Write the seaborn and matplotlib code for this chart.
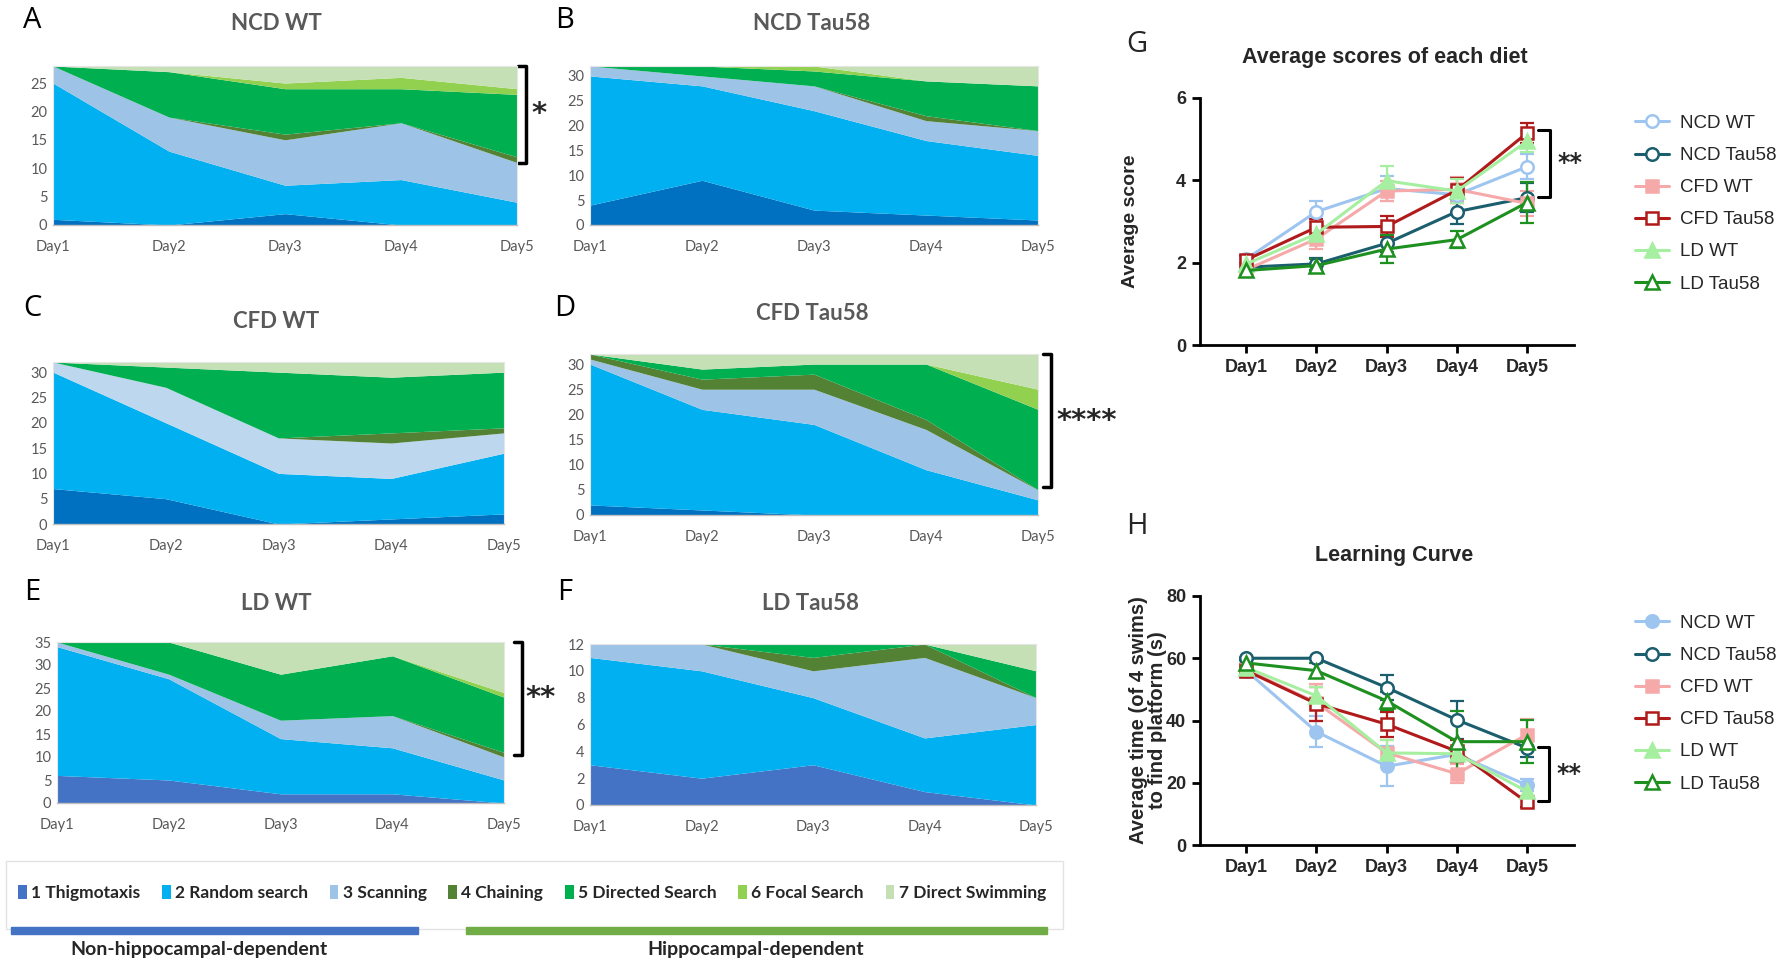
import numpy as np
import pandas as pd
import matplotlib
matplotlib.use("Agg")
import matplotlib.pyplot as plt
import matplotlib.transforms as mtransforms
from matplotlib.patches import Patch, Rectangle
import seaborn as sns

sns.set_style("white")
plt.rcParams["font.family"] = ["Lato", "DejaVu Sans"]

W, H = 1783, 961

days = ["Day1", "Day2", "Day3", "Day4", "Day5"]
strategies = ["1 Thigmotaxis", "2 Random search", "3 Scanning", "4 Chaining",
              "5 Directed Search", "6 Focal Search", "7 Direct Swimming"]

# search strategy counts: one row per strategy, one column per day
ncd_wt = [[1, 0, 2, 0, 0], [24, 13, 5, 8, 4], [3, 6, 8, 10, 7], [0, 0, 1, 0, 1],
          [0, 8, 8, 6, 11], [0, 0, 1, 2, 1], [0, 1, 3, 2, 4]]
ncd_tau = [[4, 9, 3, 2, 1], [26, 19, 20, 15, 13], [2, 2, 5, 4, 5], [0, 0, 0, 1, 0],
           [0, 2, 3, 7, 9], [0, 0, 1, 0, 0], [0, 0, 0, 3, 4]]
cfd_wt = [[7, 5, 0, 1, 2], [23, 15, 10, 8, 12], [2, 7, 7, 7, 4], [0, 0, 0, 2, 1],
          [0, 4, 13, 11, 11], [0, 0, 0, 0, 0], [0, 1, 2, 3, 2]]
cfd_tau = [[2, 1, 0, 0, 0], [28, 20, 18, 9, 3], [1, 4, 7, 8, 2], [1, 2, 3, 2, 0],
           [0, 2, 2, 11, 16], [0, 0, 0, 0, 4], [0, 3, 2, 2, 7]]
ld_wt = [[6, 5, 2, 2, 0], [28, 22, 12, 10, 5], [1, 1, 4, 7, 5], [0, 0, 0, 0, 1],
         [0, 7, 10, 13, 12], [0, 0, 0, 0, 1], [0, 0, 7, 3, 11]]
ld_tau = [[3, 2, 3, 1, 0], [8, 8, 5, 4, 6], [1, 2, 2, 6, 2], [0, 0, 1, 1, 0],
          [0, 0, 1, 0, 2], [0, 0, 0, 0, 0], [0, 0, 0, 0, 2]]

groups = ["NCD WT", "NCD Tau58", "CFD WT", "CFD Tau58", "LD WT", "LD Tau58"]

# average score (mean, sem)
score_mean = {
    "NCD WT":    [2.09, 3.24, 3.80, 3.65, 4.33],
    "NCD Tau58": [1.89, 1.97, 2.47, 3.24, 3.58],
    "CFD WT":    [1.83, 2.58, 3.74, 3.78, 3.44],
    "CFD Tau58": [2.07, 2.86, 2.88, 3.76, 5.15],
    "LD WT":     [1.97, 2.70, 3.99, 3.74, 4.95],
    "LD Tau58":  [1.81, 1.93, 2.33, 2.56, 3.46],
}
score_sem = {
    "NCD WT":    [0.10, 0.25, 0.30, 0.15, 0.30],
    "NCD Tau58": [0.10, 0.15, 0.20, 0.30, 0.35],
    "CFD WT":    [0.10, 0.25, 0.25, 0.30, 0.30],
    "CFD Tau58": [0.10, 0.20, 0.25, 0.30, 0.25],
    "LD WT":     [0.10, 0.20, 0.35, 0.30, 0.25],
    "LD Tau58":  [0.10, 0.15, 0.35, 0.20, 0.50],
}

# latency to platform (mean, sem)
time_mean = {
    "NCD WT":    [56.0, 36.4, 25.3, 29.1, 19.2],
    "NCD Tau58": [60.0, 60.0, 50.6, 40.2, 31.2],
    "CFD WT":    [56.3, 45.7, 29.6, 22.9, 35.5],
    "CFD Tau58": [56.0, 45.4, 38.8, 30.1, 13.7],
    "LD WT":     [57.0, 47.9, 29.6, 29.3, 17.2],
    "LD Tau58":  [58.5, 56.0, 46.3, 33.2, 33.2],
}
time_sem = {
    "NCD WT":    [2.0, 5.0, 6.5, 2.5, 2.0],
    "NCD Tau58": [0.0, 0.0, 4.0, 6.0, 3.0],
    "CFD WT":    [2.0, 6.0, 4.0, 3.0, 5.0],
    "CFD Tau58": [2.0, 5.5, 4.0, 3.5, 1.5],
    "LD WT":     [2.0, 3.0, 4.0, 2.0, 2.0],
    "LD Tau58":  [1.0, 2.5, 3.0, 10.0, 7.0],
}

# ---------- styles ----------
pal = ["#0070C0", "#00B0F0", "#9DC3E6", "#548235", "#00B050", "#92D050", "#C5E0B4"]
pal_ld = ["#4472C4"] + pal[1:]
pal_cfd = pal[:2] + ["#BDD7EE"] + pal[3:]

grp_color = {"NCD WT": "#9EC5F0", "NCD Tau58": "#1B5E6E", "CFD WT": "#F6A9A9",
             "CFD Tau58": "#B01A1A", "LD WT": "#A6EFA0", "LD Tau58": "#1E9020"}
grp_marker = {"NCD WT": "o", "NCD Tau58": "o", "CFD WT": "s",
              "CFD Tau58": "s", "LD WT": "^", "LD Tau58": "^"}
grp_open = {"NCD WT": True, "NCD Tau58": True, "CFD WT": False,
            "CFD Tau58": True, "LD WT": False, "LD Tau58": True}

ARIAL = ["Liberation Sans", "DejaVu Sans"]


def px(l, t, r, b):
    return [l / W, 1 - b / H, (r - l) / W, (b - t) / H]


def ftext(x, y, s, **kw):
    fig.text(x / W, 1 - y / H, s, ha=kw.pop("ha", "center"), va=kw.pop("va", "center"), **kw)


fig = plt.figure(figsize=(W / 100, H / 100), dpi=100)

x = np.arange(len(days))


def area_panel(rect, counts, title, title_xy, letter, letter_xy, ystep, colors):
    ax = fig.add_axes(px(*rect))
    ax.stackplot(x, np.array(counts), colors=colors, lw=0)
    total = np.array(counts).sum(axis=0).max()
    ax.set_xlim(0, 4)
    ax.set_ylim(0, total)
    ax.set_yticks(np.arange(0, total + 0.1, ystep))
    ax.set_xticks(x)
    ax.set_xticklabels(days)
    ax.tick_params(axis="x", direction="out", length=5, width=1, color="#BFBFBF",
                   labelsize=10.5, labelcolor="#595959", pad=6)
    ax.tick_params(axis="y", length=0, labelsize=10.5, labelcolor="#595959", pad=4)
    for s in ["top", "right", "left"]:
        ax.spines[s].set_color("#E6E6E6")
        ax.spines[s].set_linewidth(0.8)
    ax.spines["bottom"].set_color("#BFBFBF")
    ax.spines["bottom"].set_linewidth(1)
    ftext(*title_xy, title, fontsize=16, fontweight="bold", color="#595959")
    ftext(*letter_xy, letter, fontsize=21, color="black", family=["Open Sans", "DejaVu Sans"])
    return ax


def bracket(ax, y0, y1, label, xoff, toff, tick=0.018, fs=21):
    tr = mtransforms.blended_transform_factory(ax.transAxes, ax.transData)
    ax.plot([1 + xoff - tick, 1 + xoff, 1 + xoff, 1 + xoff - tick], [y0, y0, y1, y1],
            color="black", lw=2.5, transform=tr, clip_on=False)
    ax.text(1 + xoff + toff, (y0 + y1) / 2, label, transform=tr, ha="left", va="center",
            fontsize=fs, fontweight="bold", family=["DejaVu Sans"])


def data_bracket(ax, xv, y0, y1, label):
    ax.plot([xv - 0.17, xv, xv, xv - 0.17], [y0, y0, y1, y1], color="black", lw=2.2,
            clip_on=False, zorder=5)
    ax.text(xv + 0.1, (y0 + y1) / 2, label, ha="left", va="center", fontsize=17,
            fontweight="bold", family=["DejaVu Sans"])


axA = area_panel((53, 66, 517, 225), ncd_wt, "NCD WT", (276, 24), "A", (32, 20), 5, pal)
axB = area_panel((590, 66, 1038, 225), ncd_tau, "NCD Tau58", (812, 24), "B", (565, 20), 5, pal)
axC = area_panel((53, 362, 504, 524), cfd_wt, "CFD WT", (276, 322), "C", (32, 308), 5, pal_cfd)
axD = area_panel((590, 354, 1038, 515), cfd_tau, "CFD Tau58", (812, 314), "D", (565, 308), 5, pal)
axE = area_panel((57, 642, 504, 803), ld_wt, "LD WT", (276, 603), "E", (32, 592), 5, pal_ld)
axF = area_panel((590, 644, 1036, 805), ld_tau, "LD Tau58", (811, 604), "F", (565, 592), 2, pal_ld)

bracket(axA, 28, 11, "*", 0.02, 0.012)
bracket(axD, 32, 5.5, "****", 0.03, 0.012)
bracket(axE, 35, 10.5, "**", 0.04, 0.008)

# ---------- strategy legend ----------
handles = [Patch(facecolor=c, edgecolor="none") for c in pal_ld]
fig.legend(handles, strategies, loc="center", bbox_to_anchor=(532 / W, 1 - 893 / H), ncol=7,
           frameon=False, handlelength=0.5, handleheight=0.9, handletextpad=0.25,
           columnspacing=1.25, prop=dict(family="Lato", weight="bold", size=12.5))
fig.add_artist(Rectangle((6 / W, 1 - 929 / H), 1057 / W, 68 / H, fill=False,
                         edgecolor="#E3E3E3", lw=1, transform=fig.transFigure))
fig.add_artist(Rectangle((11 / W, 1 - 934 / H), 407 / W, 7 / H, color="#4472C4",
                         transform=fig.transFigure))
fig.add_artist(Rectangle((466 / W, 1 - 934 / H), 581 / W, 7 / H, color="#70AD47",
                         transform=fig.transFigure))
ftext(199, 949, "Non-hippocampal-dependent", fontsize=14, fontweight="bold")
ftext(756, 949, "Hippocampal-dependent", fontsize=14, fontweight="bold")


# ---------- G / H line charts ----------
def line_panel(rect, means, sems, ylim, yticks, filled_ncd):
    ax = fig.add_axes(px(*rect))
    for g in groups:
        df = pd.DataFrame({"day": x, "val": means[g]})
        c = grp_color[g]
        is_open = grp_open[g] and not (filled_ncd and g == "NCD WT")
        ax.errorbar(x, means[g], yerr=sems[g], fmt="none", ecolor=c, elinewidth=1.6,
                    capsize=5, capthick=1.6, zorder=2)
        sns.lineplot(data=df, x="day", y="val", ax=ax, color=c, lw=2.2, label=g,
                     marker=grp_marker[g], ms=9 if grp_marker[g] != "^" else 10,
                     mfc="white" if is_open else c, mec=c, mew=1.8, errorbar=None, zorder=3)
    ax.set_xlim(-0.66, 4.67)
    ax.set_ylim(*ylim)
    ax.set_yticks(yticks)
    ax.set_xticks(x)
    ax.set_xticklabels(days)
    ax.set_xlabel("")
    ax.set_ylabel("")
    sns.despine(ax=ax)
    for s in ["left", "bottom"]:
        ax.spines[s].set_linewidth(2)
        ax.spines[s].set_color("black")
    ax.tick_params(direction="out", length=6, width=2, color="black", labelsize=13, pad=4,
                   left=True, bottom=True)
    for lab in ax.get_xticklabels() + ax.get_yticklabels():
        lab.set_fontweight("bold")
        lab.set_family(ARIAL)
    return ax


axG = line_panel((1200, 98, 1574, 345), score_mean, score_sem, (0, 6), [0, 2, 4, 6], False)
axG.legend(loc="upper left", bbox_to_anchor=(1618 / W, 1 - 98 / H), bbox_transform=fig.transFigure,
           frameon=False, handlelength=1.8, handletextpad=0.6, labelspacing=0.8,
           prop=dict(family="Liberation Sans", size=13.5))
data_bracket(axG, 4.33, 5.22, 3.6, "**")
ftext(1385, 57, "Average scores of each diet", fontsize=15.5, fontweight="bold", family=ARIAL)
ftext(1137, 45, "G", fontsize=21, family=["Open Sans", "DejaVu Sans"])
ftext(1131, 221, "Average score", fontsize=14, fontweight="bold", rotation=90, family=ARIAL)

axH = line_panel((1200, 596, 1574, 845), time_mean, time_sem, (0, 80), [0, 20, 40, 60, 80], True)
axH.legend(loc="upper left", bbox_to_anchor=(1618 / W, 1 - 598 / H), bbox_transform=fig.transFigure,
           frameon=False, handlelength=1.8, handletextpad=0.6, labelspacing=0.8,
           prop=dict(family="Liberation Sans", size=13.5))
data_bracket(axH, 4.32, 31.5, 14.0, "**")
ftext(1394, 556, "Learning Curve", fontsize=15.5, fontweight="bold", family=ARIAL)
ftext(1137, 527, "H", fontsize=21, family=["Open Sans", "DejaVu Sans"])
ftext(1148, 720, "Average time (of 4 swims)\nto find platform (s)", fontsize=14.5,
      fontweight="bold", rotation=90, linespacing=1.0, family=ARIAL)

fig.savefig("out.png", dpi=100, facecolor="white")
